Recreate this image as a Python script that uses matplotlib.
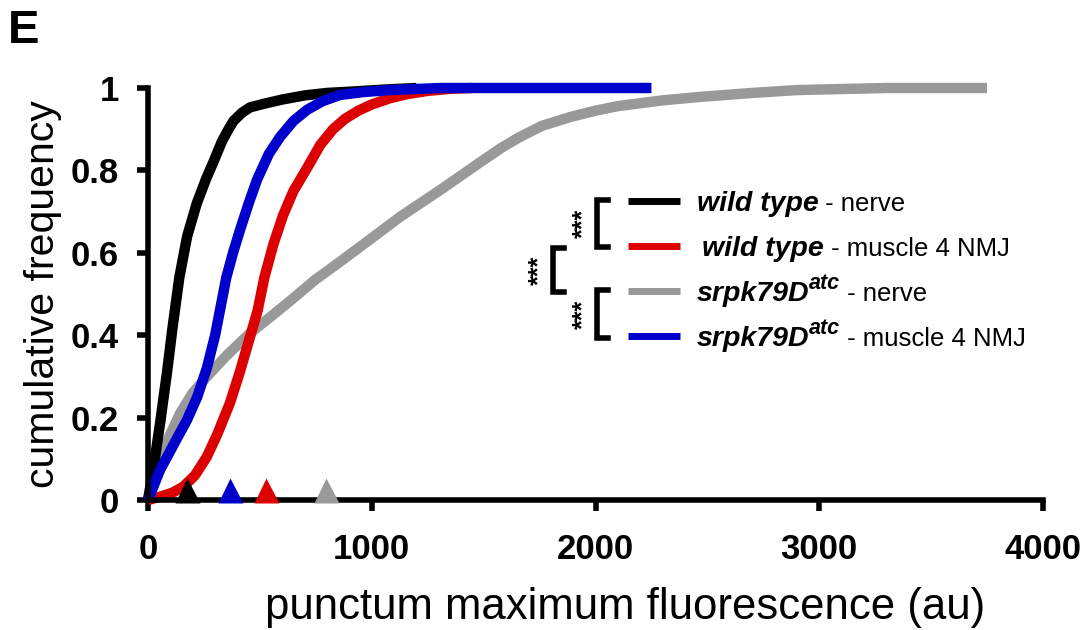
import numpy as np
import matplotlib
matplotlib.use("Agg")
import matplotlib.pyplot as plt

plt.rcParams['font.family'] = ['Liberation Sans', 'DejaVu Sans']

# cumulative curves (x in au, y cumulative frequency)
wt_nerve_x = [0, 25, 55, 85, 110, 140, 175, 218, 260, 292, 330, 360, 382, 420, 456, 520, 600, 700, 800, 933, 1050, 1200]
wt_nerve_y = [0, 0.08, 0.19, 0.31, 0.42, 0.54, 0.64, 0.72, 0.78, 0.82, 0.87, 0.9, 0.92, 0.94, 0.953, 0.962, 0.972, 0.982, 0.988, 0.992, 0.996, 1.0]

wt_nmj_x = [0, 54, 110, 157, 210, 263, 310, 366, 410, 456, 490, 520, 560, 603, 650, 711, 770, 827, 880, 940, 1000, 1080, 1157, 1250, 1350, 1450]
wt_nmj_y = [0, 0.008, 0.018, 0.032, 0.06, 0.105, 0.16, 0.235, 0.31, 0.396, 0.46, 0.54, 0.62, 0.69, 0.75, 0.806, 0.862, 0.9, 0.925, 0.945, 0.96, 0.975, 0.985, 0.993, 0.998, 1.0]

srpk_nerve_x = [0, 54, 100, 143, 200, 264, 350, 456, 560, 650, 746, 850, 1006, 1126, 1305, 1480, 1580, 1658, 1760, 1890, 2000, 2100, 2300, 2458, 2700, 2900, 3300, 3750]
srpk_nerve_y = [0, 0.10, 0.16, 0.21, 0.26, 0.30, 0.35, 0.405, 0.45, 0.49, 0.534, 0.575, 0.638, 0.687, 0.752, 0.818, 0.855, 0.88, 0.908, 0.93, 0.945, 0.956, 0.97, 0.978, 0.988, 0.995, 1.0, 1.0]

srpk_nmj_x = [0, 54, 120, 174, 220, 263, 300, 325, 350, 380, 411, 450, 487, 540, 590, 650, 711, 780, 858, 960, 1082, 1305, 2250]
srpk_nmj_y = [0, 0.073, 0.14, 0.194, 0.25, 0.32, 0.40, 0.47, 0.54, 0.60, 0.655, 0.72, 0.777, 0.84, 0.881, 0.92, 0.947, 0.968, 0.983, 0.99, 0.995, 1.0, 1.0]

# median markers on the x axis
medians = {'wt_nerve': 174, 'wt_nmj': 527, 'srpk_nerve': 795, 'srpk_nmj': 366}

c_black = '#000000'
c_red = '#dd0000'
c_gray = '#999999'
c_blue = '#0000cc'

fig = plt.figure(figsize=(10.9, 6.3), dpi=100)
ax = fig.add_axes([148/1090, 130/630, 895/1090, 412/630])

lw = 7.5
style = dict(lw=lw, solid_capstyle='butt', solid_joinstyle='round', clip_on=False)
ax.plot(srpk_nerve_x, srpk_nerve_y, color=c_gray, **style)
ax.plot(wt_nmj_x, wt_nmj_y, color=c_red, **style)
ax.plot(wt_nerve_x, wt_nerve_y, color=c_black, **style)
ax.plot(srpk_nmj_x, srpk_nmj_y, color=c_blue, **style)

for key, col in [('wt_nerve', c_black), ('srpk_nmj', c_blue), ('wt_nmj', c_red), ('srpk_nerve', c_gray)]:
    ax.plot(medians[key], 0.024, marker='^', ms=18, color=col, mec='none', clip_on=False, zorder=5)

ax.set_xlim(0, 4000)
ax.set_ylim(0, 1)
ax.set_xticks([0, 1000, 2000, 3000, 4000])
ax.set_yticks([0, 0.2, 0.4, 0.6, 0.8, 1])
ax.set_yticklabels(['0', '0.2', '0.4', '0.6', '0.8', '1'])
for s in ['top', 'right']:
    ax.spines[s].set_visible(False)
for s in ['left', 'bottom']:
    ax.spines[s].set_linewidth(4)
    ax.spines[s].set_zorder(4)
ax.tick_params(axis='both', direction='out', length=8, width=4, labelsize=25)
ax.tick_params(axis='x', pad=16)
ax.tick_params(axis='y', pad=13)
for lab in ax.get_xticklabels() + ax.get_yticklabels():
    lab.set_fontweight('bold')

ax.set_xlabel('punctum maximum fluorescence (au)', fontsize=31.5)
ax.xaxis.set_label_coords(0.533, -0.212)
ax.set_ylabel('cumulative frequency', fontsize=29.5, labelpad=6)

fig.text(0.007, 0.985, 'E', fontsize=34, fontweight='bold', va='top')

# legend drawn by hand
fig.canvas.draw()
r = fig.canvas.get_renderer()
inv = ax.transAxes.inverted()

def put_row(x, y, pieces):
    for s, kw, dy in pieces:
        t = ax.text(x, y + dy, s, transform=ax.transAxes, va='baseline', **kw)
        bb = t.get_window_extent(r)
        x = inv.transform((bb.x1, 0))[0]

big = dict(fontsize=20.5, fontweight='bold', style='italic')
sup = dict(fontsize=15.5, fontweight='bold', style='italic')
small = dict(fontsize=18.5)

rows = [
    (0.726, c_black, [('wild type', big, 0), (' - nerve', small, 0)], 0.613),
    (0.617, c_red, [('wild type', big, 0), (' - muscle 4 NMJ', small, 0)], 0.619),
    (0.507, c_gray, [('srpk79D', big, 0), ('atc', sup, 0.03), (' - nerve', small, 0)], 0.613),
    (0.398, c_blue, [('srpk79D', big, 0), ('atc', sup, 0.03), (' - muscle 4 NMJ', small, 0)], 0.613),
]
for yy, col, pieces, tx in rows:
    ax.plot([0.536, 0.594], [yy, yy], color=col, lw=5, transform=ax.transAxes, solid_capstyle='butt')
    put_row(tx, yy - 0.025, pieces)

def bracket(x, y0, y1, sx):
    ax.plot([x + 0.012, x, x, x + 0.012], [y1, y1, y0, y0], color='black', lw=4,
            transform=ax.transAxes, solid_joinstyle='miter', clip_on=False)
    ax.text(sx, (y0 + y1) / 2, '***', rotation=90, transform=ax.transAxes,
            ha='center', va='center', fontsize=18, fontweight='bold')

bracket(0.502, 0.614, 0.728, 0.486)
bracket(0.502, 0.393, 0.510, 0.486)
bracket(0.4525, 0.505, 0.612, 0.437)

fig.savefig('out.png', dpi=100)
